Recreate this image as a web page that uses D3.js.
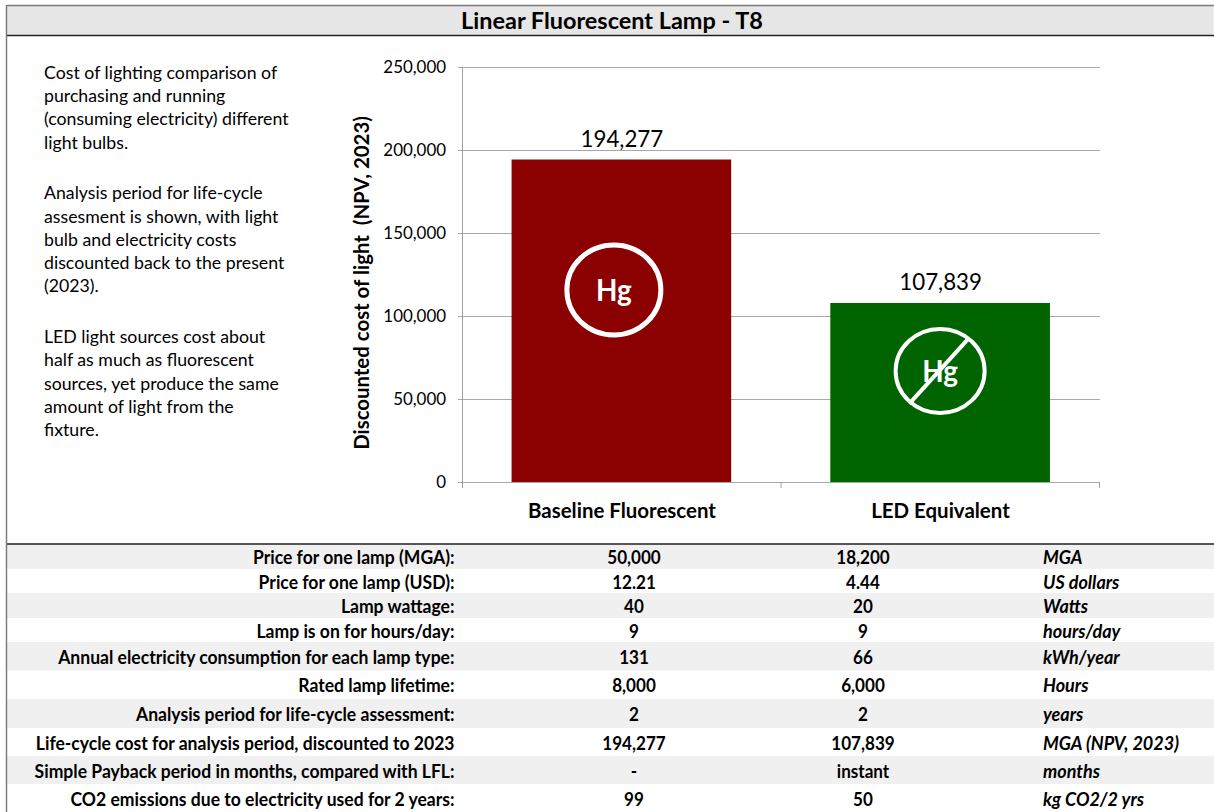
<!DOCTYPE html>
<html><head><meta charset="utf-8">
<script src="https://cdn.jsdelivr.net/npm/d3@7"></script>
<style>
html,body{margin:0;padding:0;background:#fff}
svg{display:block}
text{font-family:Lato,"Open Sans",sans-serif;fill:#000;white-space:pre}
</style></head><body>
<svg id="c" width="1214" height="812"></svg>
<script>
const chartTitle = "Linear Fluorescent Lamp - T8";
const categories = ["Baseline Fluorescent", "LED Equivalent"];
const costs = [194277, 107839];
const barColors = ["#8b0000", "#006400"];
const yTicks = [0, 50000, 100000, 150000, 200000, 250000];
const yAxisLabel = "Discounted cost of light  (NPV, 2023)";
const noteLines = [
 "Cost of lighting comparison of","purchasing and running","(consuming electricity) different","light bulbs.","",
 "Analysis period for life-cycle","assesment is shown, with light","bulb and electricity costs","discounted back to the present","(2023).","",
 "LED light sources cost about","half as much as fluorescent","sources, yet produce the same","amount of light from the","fixture."];
const noteY = [79,102,125,149,0,199,223,246,269,292,0,343,366,390,413,436];
const rowLabels = ["Price for one lamp (MGA):","Price for one lamp (USD):","Lamp wattage:","Lamp is on for hours/day:","Annual electricity consumption for each lamp type:","Rated lamp lifetime:","Analysis period for life-cycle assessment:","Life-cycle cost for analysis period, discounted to 2023","Simple Payback period in months, compared with LFL:","CO2 emissions due to electricity used for 2 years:"];
const baselineCol = ["50,000","12.21","40","9","131","8,000","2","194,277","-","99"];
const ledCol = ["18,200","4.44","20","9","66","6,000","2","107,839","instant","50"];
const unitCol = ["MGA","US dollars","Watts","hours/day","kWh/year","Hours","years","MGA (NPV, 2023)","months","kg CO2/2 yrs"];
const rowEdges = [544.5,569,593,618,642,670.5,699,728,756,784,812];

const svg = d3.select("#c");
const plot = {l:463,r:1100,t:67,b:482};
const X = d3.scaleBand().domain(categories).range([plot.l-1,plot.r-.5]).paddingInner(.311).paddingOuter(.1555);
const Y = d3.scaleLinear().domain([0,250000]).range([plot.b,plot.t]);
function T(x,y,s,size,anchor,opt={}){
  const sx = opt.sx||1;
  const t = svg.append("text").attr("transform",`translate(${x},${y}) scale(${sx},1)`)
    .attr("text-anchor",anchor).attr("font-size",size).text(s);
  if(opt.b) t.attr("font-weight",700);
  if(opt.i) t.attr("font-style","italic");
  if(opt.fill) t.style("fill",opt.fill);
  return t;
}
// frame & title
svg.append("rect").attr("x",6.5).attr("y",5.5).attr("width",1207).attr("height",30).attr("fill","#e6e6e6");
T(612,29,chartTitle,23,"middle",{b:true,sx:1.02});
// table bands
rowLabels.forEach((_,i)=>{ if(i%2==0) svg.append("rect").attr("x",7).attr("y",rowEdges[i]).attr("width",1207).attr("height",rowEdges[i+1]-rowEdges[i]).attr("fill","#f0f0f0"); });
[[6.5,5.5,1214,5.5,"#7a7a7a"],[6.5,35.5,1214,35.5,"#222"],[6.5,544,1214,544,"#555"],[6.5,5,6.5,812,"#777"]].forEach(d=>
  svg.append("line").attr("x1",d[0]).attr("y1",d[1]).attr("x2",d[2]).attr("y2",d[3]).attr("stroke",d[4]).attr("stroke-width",d[1]==544?2:1.4));
// notes
noteLines.forEach((s,i)=>{ if(s) T(44,noteY[i],s,18,"start",{sx:.985}); });
// grid
svg.append("g").selectAll("line").data(yTicks).join("line")
  .attr("x1",plot.l-5).attr("x2",plot.r).attr("y1",d=>Y(d)+.5).attr("y2",d=>Y(d)+.5).attr("stroke","#a8a8a8");
svg.append("line").attr("x1",plot.l-.5).attr("x2",plot.l-.5).attr("y1",plot.t).attr("y2",plot.b).attr("stroke","#a0a0a0");
[plot.l-1,(plot.l+plot.r)/2-1,plot.r-1].forEach(x=>svg.append("line").attr("x1",x+.5).attr("x2",x+.5).attr("y1",plot.b).attr("y2",plot.b+6).attr("stroke","#a0a0a0"));
// bars
svg.append("g").selectAll("rect").data(categories).join("rect")
  .attr("x",d=>X(d)).attr("width",X.bandwidth()).attr("y",(d,i)=>Y(costs[i])).attr("height",(d,i)=>plot.b-Y(costs[i])).attr("fill",(d,i)=>barColors[i]);
// labels
const fmt = d3.format(",");
yTicks.forEach(v=>T(446,Y(v)+6,fmt(v),18,"end",{sx:.94}));
categories.forEach((c,i)=>{
  const cx = X(c)+X.bandwidth()/2;
  T(cx+.5,Y(costs[i])-13,fmt(costs[i]),24,"middle",{sx:.93});
  T(i==0?622:940.5,518,c,21,"middle",{b:true,sx:.975});
});
svg.append("text").attr("transform","translate(369,283) rotate(-90) scale(1.02,1)").attr("text-anchor","middle").attr("font-size",20).attr("font-weight",700).text(yAxisLabel);
// Hg badges, placed from the bar they sit on
const hgValues = [115700, 66900];
const hgDx = [-7.5, 0];
const hgRx = [47, 44.5];
const hgRy = [45, 42];
categories.forEach((c,i)=>{
  const cx = X(c)+X.bandwidth()/2+hgDx[i], cy = Y(hgValues[i]);
  svg.append("ellipse").attr("cx",cx).attr("cy",cy).attr("rx",hgRx[i]).attr("ry",hgRy[i]).attr("fill","none").attr("stroke","#fff").attr("stroke-width",i==0?5:4);
  T(cx,cy+11,"Hg",30,"middle",{b:true,fill:"#fff",sx:.93});
  if(i==1) svg.append("line").attr("x1",cx-31).attr("y1",cy+33).attr("x2",cx+29).attr("y2",cy-33).attr("stroke","#fff").attr("stroke-width",4);
});
// table text
rowLabels.forEach((s,i)=>{
  const y=(rowEdges[i]+rowEdges[i+1])/2+7.5;
  T(454.5,y,s,18,"end",{b:true,sx:.976});
  T(634,y,baselineCol[i],18,"middle",{b:true,sx:.95});
  T(863,y,ledCol[i],18,"middle",{b:true,sx:.95});
  T(1043,y,unitCol[i],18,"start",{b:true,i:true});
});
</script></body></html>
